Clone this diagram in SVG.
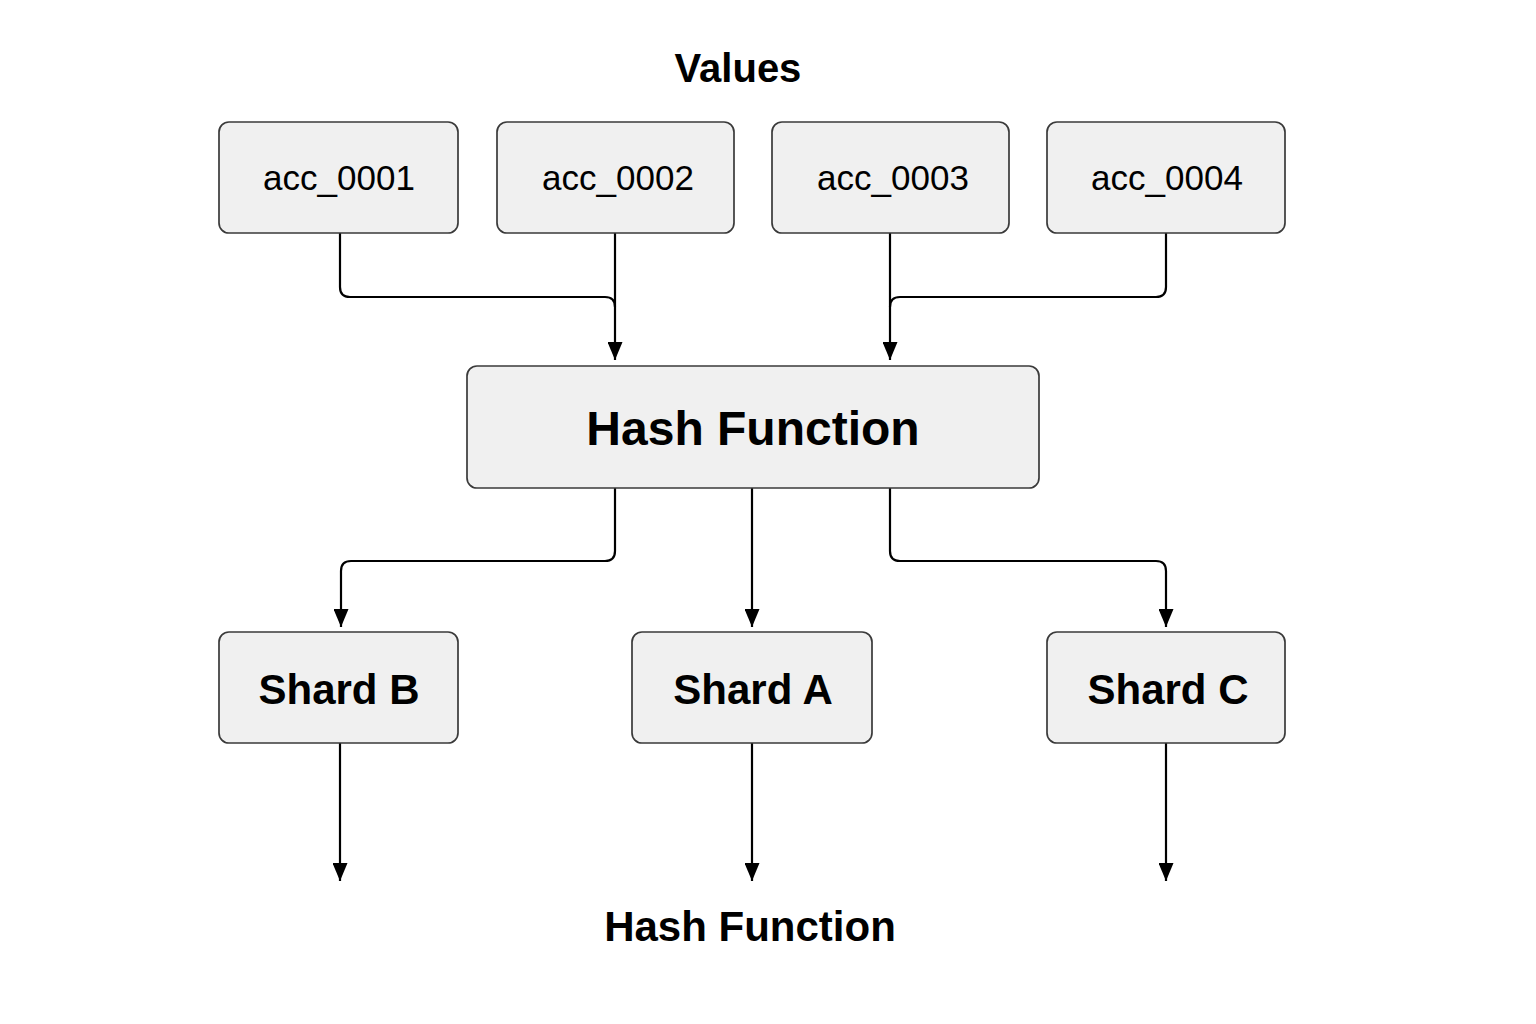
<svg xmlns="http://www.w3.org/2000/svg" width="1536" height="1024" viewBox="0 0 1536 1024">
<defs>
<marker id="ah" markerWidth="18" markerHeight="15" refX="18" refY="7.5" orient="auto" markerUnits="userSpaceOnUse" viewBox="0 0 18 15">
<path d="M0,0 L18,7.5 L0,15 Z" fill="#000"/>
</marker>
</defs>
<style>
.box{fill:#f0f0f0;stroke:#3a3a3a;stroke-width:1.7}
.lbl{font-family:"Liberation Sans",Arial,sans-serif;fill:#000;text-anchor:middle}
.reg{font-size:35px}
.bold{font-weight:bold}
.conn{fill:none;stroke:#000;stroke-width:2.2;marker-end:url(#ah)}
.line{fill:none;stroke:#000;stroke-width:2.2}
</style>
<rect width="1536" height="1024" fill="#fff"/>
<text class="lbl bold" x="738" y="82" font-size="40">Values</text>
<g id="connectors">
<path class="line" d="M340,233 V287 Q340,297 350,297 H605 Q615,297 615,307"/>
<path class="conn" d="M615,233 V360"/>
<path class="conn" d="M890,233 V360"/>
<path class="line" d="M1166,233 V287 Q1166,297 1156,297 H900 Q890,297 890,307"/>
<path class="conn" d="M615,488 V551 Q615,561 605,561 H351 Q341,561 341,571 V627"/>
<path class="conn" d="M752,488 V627"/>
<path class="conn" d="M890,488 V551 Q890,561 900,561 H1156 Q1166,561 1166,571 V627"/>
<path class="conn" d="M340,743 V881"/>
<path class="conn" d="M752,743 V881"/>
<path class="conn" d="M1166,743 V881"/>
</g>
<g id="acc1"><rect class="box" x="219" y="122" width="239" height="111" rx="10"/><text class="lbl reg" x="339" y="190">acc_0001</text></g>
<g id="acc2"><rect class="box" x="497" y="122" width="237" height="111" rx="10"/><text class="lbl reg" x="618" y="190">acc_0002</text></g>
<g id="acc3"><rect class="box" x="772" y="122" width="237" height="111" rx="10"/><text class="lbl reg" x="893" y="190">acc_0003</text></g>
<g id="acc4"><rect class="box" x="1047" y="122" width="238" height="111" rx="10"/><text class="lbl reg" x="1167" y="190">acc_0004</text></g>
<g id="hash"><rect class="box" x="467" y="366" width="572" height="122" rx="10"/><text class="lbl bold" x="753" y="445" font-size="48">Hash Function</text></g>
<g id="shardB"><rect class="box" x="219" y="632" width="239" height="111" rx="10"/><text class="lbl bold" x="339" y="704" font-size="42">Shard B</text></g>
<g id="shardA"><rect class="box" x="632" y="632" width="240" height="111" rx="10"/><text class="lbl bold" x="753" y="704" font-size="42">Shard A</text></g>
<g id="shardC"><rect class="box" x="1047" y="632" width="238" height="111" rx="10"/><text class="lbl bold" x="1168" y="704" font-size="42">Shard C</text></g>
<text class="lbl bold" x="750" y="941" font-size="42">Hash Function</text>
</svg>
